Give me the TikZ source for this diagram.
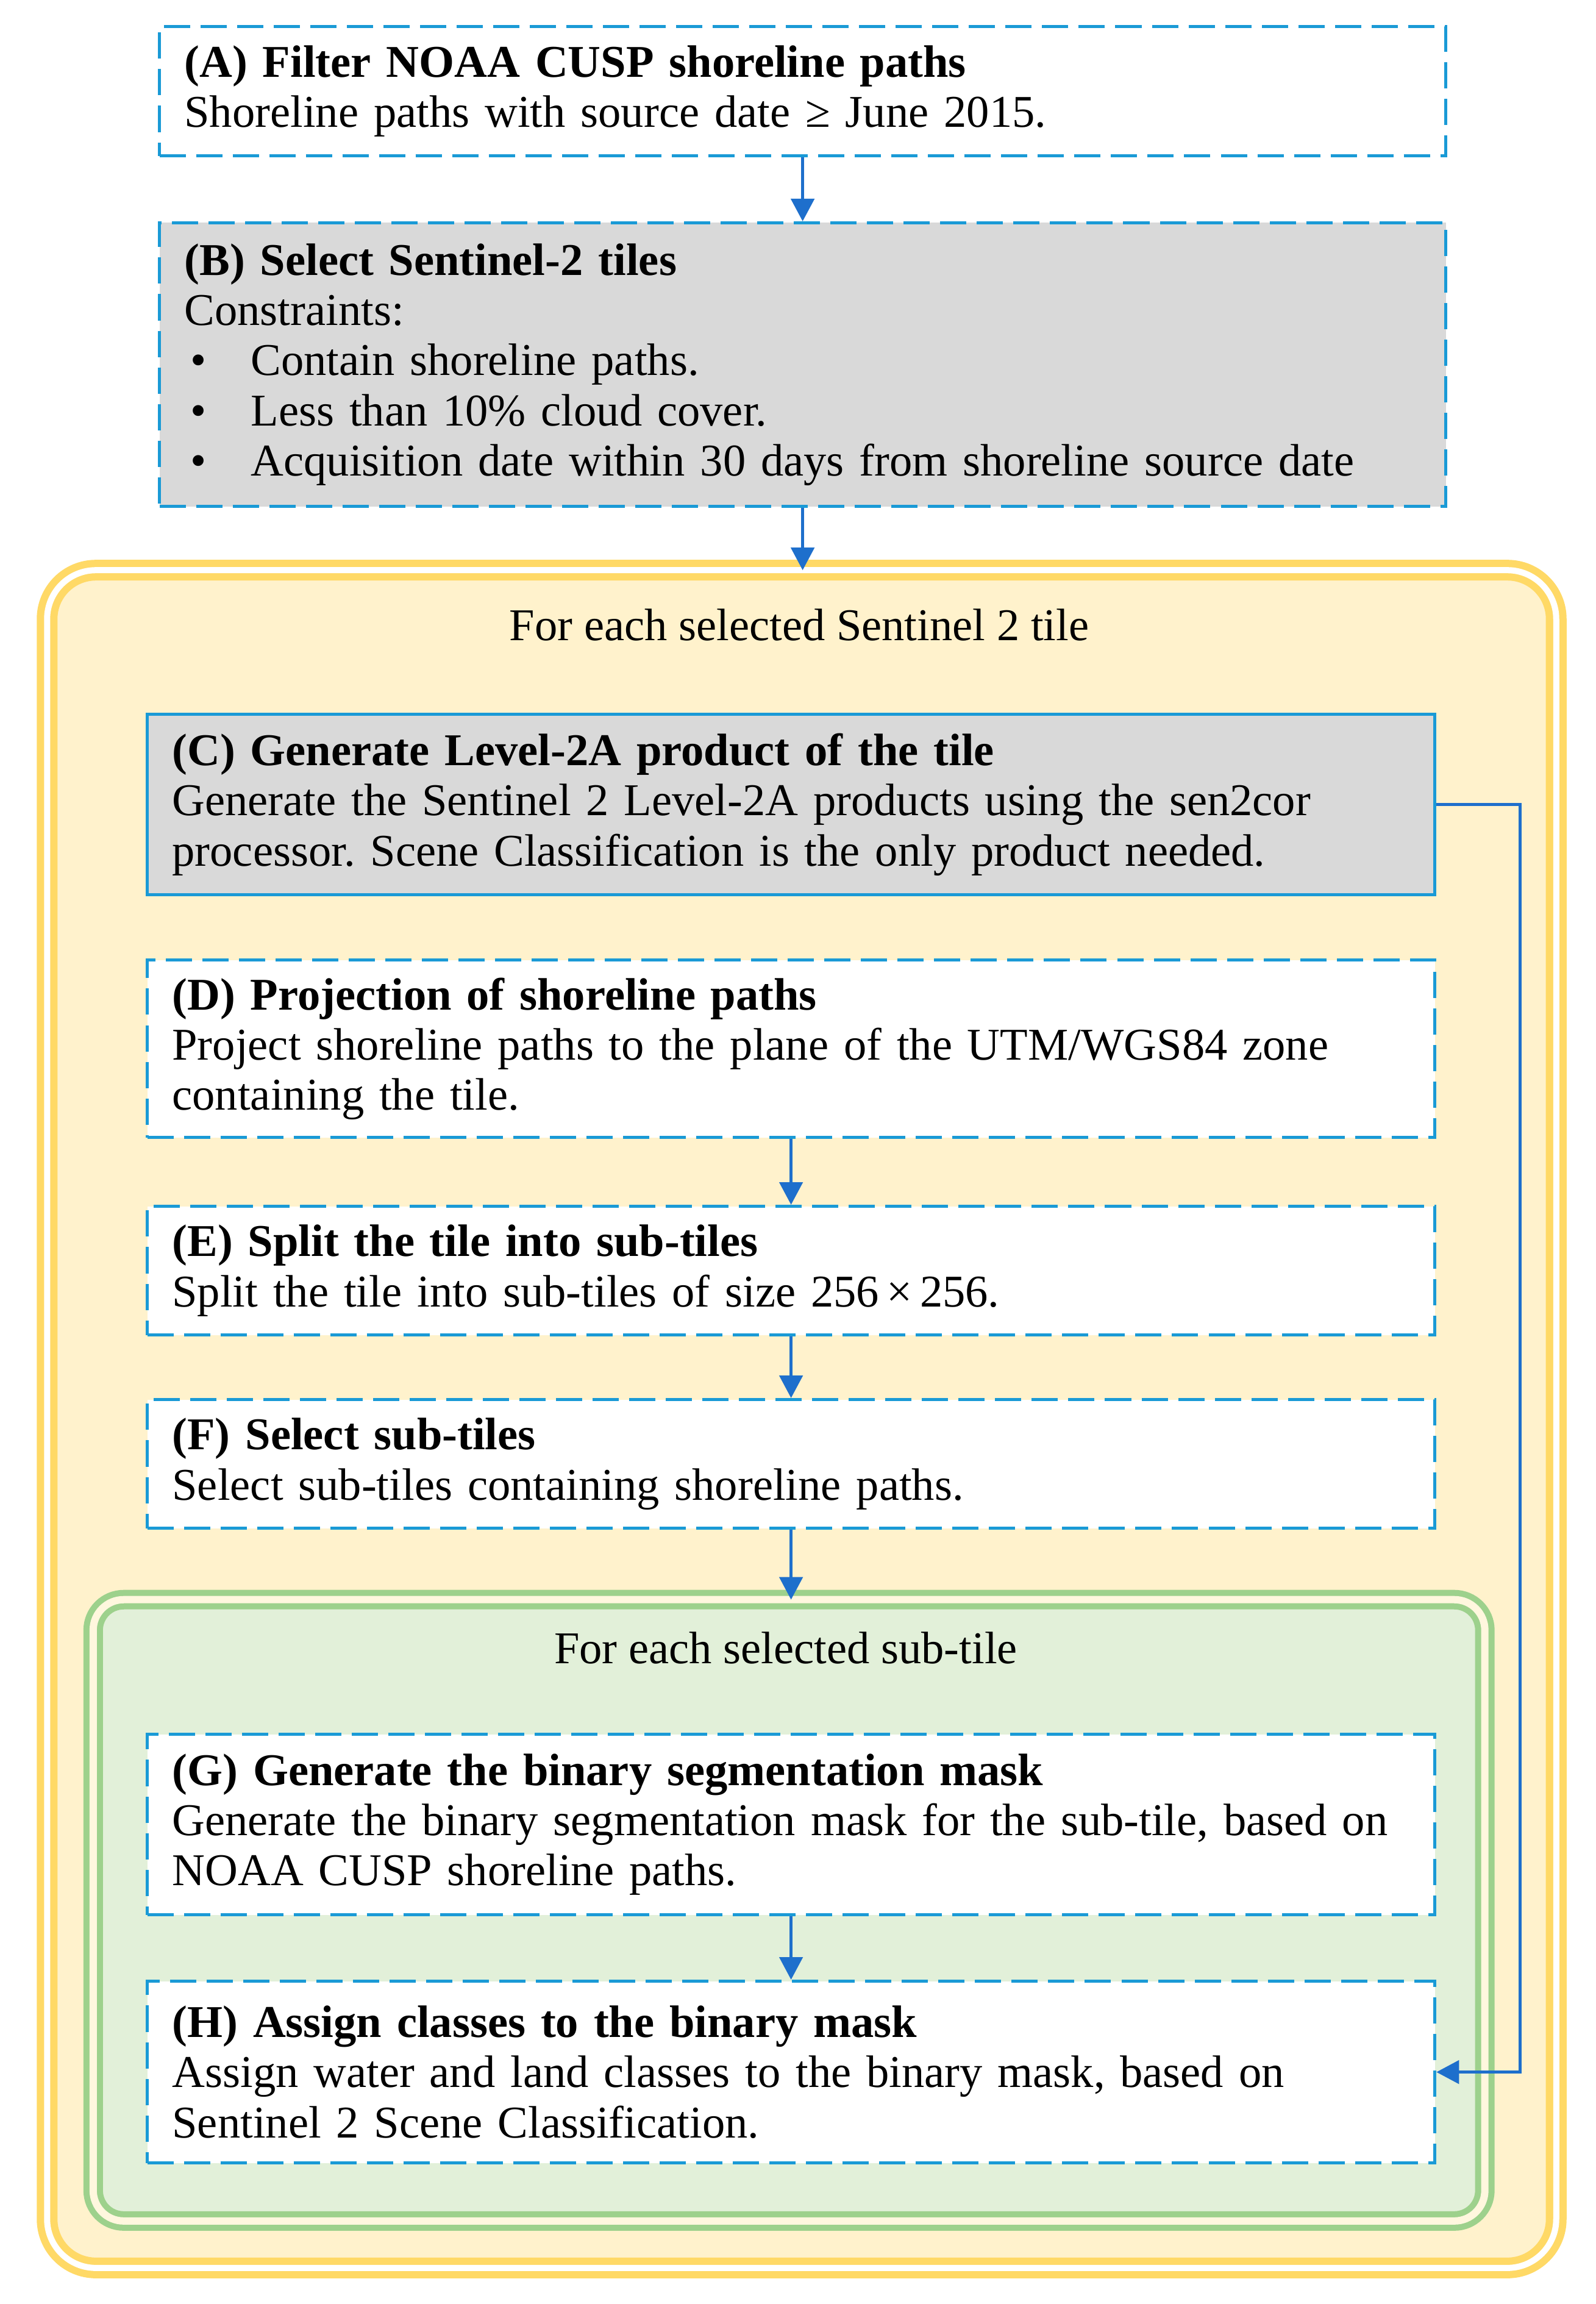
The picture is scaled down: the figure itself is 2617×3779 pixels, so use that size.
\documentclass[tikz,border=0pt]{standalone}
\usepackage{fontspec}
\setmainfont{Liberation Serif}
\usetikzlibrary{arrows.meta}
\definecolor{dashblue}{HTML}{1A9AD6}
\definecolor{arrblue}{HTML}{1E6FCC}
\definecolor{grayfill}{HTML}{D9D9D9}
\definecolor{yline}{HTML}{FFD966}
\definecolor{yfill}{HTML}{FFF2CC}
\definecolor{gline}{HTML}{9DD18C}
\definecolor{gfill}{HTML}{E2F0D9}
\definecolor{ggap}{HTML}{FFF7DE}
\newcommand{\bodyfont}{\fontsize{21.2}{23.4}\selectfont\frenchspacing}
\newcommand{\bul}{\makebox[1.09cm][l]{\hspace{0.1cm}\textbullet}}
\begin{document}
\begin{tikzpicture}[x=0.01cm,y=-0.01cm,
  stepbox/.style={anchor=north west, draw=dashblue, line width=0.05cm,
    dash pattern=on 0.43cm off 0.17cm, fill=white, inner xsep=0.41cm,
    inner ysep=0pt, align=left, font=\bodyfont},
  wideA/.style={minimum width=21.09cm, text width=20.27cm},
  wideC/.style={minimum width=21.11cm, text width=20.29cm},
  solidbox/.style={solid},
  container/.style={inner sep=0pt, outer sep=0pt},
  label/.style={font=\bodyfont, inner sep=0pt},
  arr/.style={draw=arrblue, line width=0.05cm, -{Triangle[length=0.37cm,width=0.38cm]}}]
\useasboundingbox (0,0) rectangle (2617,3779);

% containers
\node[container, draw=yline, double=white, line width=0.12cm, double distance=0.1cm,
  fill=yfill, rounded corners=0.8cm, minimum width=24.74cm, minimum height=27.83cm]
  (Y) at (1315,2327.5) {};
\node[label] (Ylab) at (1311,1025) {For each selected Sentinel 2 tile};

\node[container, draw=gline, double=ggap, line width=0.1cm, double distance=0.12cm,
  fill=gfill, rounded corners=0.5cm, minimum width=22.815cm, minimum height=10.185cm]
  (Gr) at (1294.25,3133.25) {};
\node[label] (Grlab) at (1289,2703) {For each selected sub-tile};

% boxes
\node[stepbox, wideA, minimum height=2.12cm] (A) at (259,41)
  {\textbf{(A) Filter NOAA CUSP shoreline paths}\\
   Shoreline paths with source date ≥ June 2015.};
\node[stepbox, wideA, fill=grayfill, minimum height=4.65cm] (B) at (259,363)
  {\textbf{(B) Select Sentinel-2 tiles}\\
   Constraints:\\
   \bul Contain shoreline paths.\\
   \bul Less than 10\% cloud cover.\\
   \bul Acquisition date within 30 days from shoreline source date};
\node[stepbox, wideC, solidbox, fill=grayfill, minimum height=2.96cm] (C) at (239,1169)
  {\textbf{(C) Generate Level-2A product of the tile}\\
   Generate the Sentinel 2 Level-2A products using the sen2cor\\
   processor. Scene Classification is the only product needed.};
\node[stepbox, wideC, minimum height=2.91cm] (D) at (239,1572)
  {\textbf{(D) Projection of shoreline paths}\\
   Project shoreline paths to the plane of the UTM/WGS84 zone\\
   containing the tile.};
\node[stepbox, wideC, minimum height=2.11cm] (E) at (239,1976)
  {\textbf{(E) Split the tile into sub-tiles}\\
   Split the tile into sub-tiles of size 256\,×\,256.};
\node[stepbox, wideC, minimum height=2.11cm] (F) at (239,2293)
  {\textbf{(F) Select sub-tiles}\\
   Select sub-tiles containing shoreline paths.};
\node[stepbox, wideC, minimum height=2.96cm] (G) at (239,2842)
  {\textbf{(G) Generate the binary segmentation mask}\\
   Generate the binary segmentation mask for the sub-tile, based on\\
   NOAA CUSP shoreline paths.};
\node[stepbox, wideC, minimum height=2.98cm] (H) at (239,3247)
  {\textbf{(H) Assign classes to the binary mask}\\
   Assign water and land classes to the binary mask, based on\\
   Sentinel 2 Scene Classification.};

% connectors
\draw[arr] (A.south) -- (A.south |- B.north);
\draw[arr] (B.south) -- (B.south |- Y.north);
\draw[arr] (D.south) -- (D.south |- E.north);
\draw[arr] (E.south) -- (E.south |- F.north);
\draw[arr] (F.south) -- (F.south |- Gr.north);
\draw[arr] (G.south) -- (G.south |- H.north);
\coordinate (cr) at (2493,1317);
\draw[arr] (C.east) -- (C.east -| cr) |- (H.east);
\end{tikzpicture}
\end{document}
